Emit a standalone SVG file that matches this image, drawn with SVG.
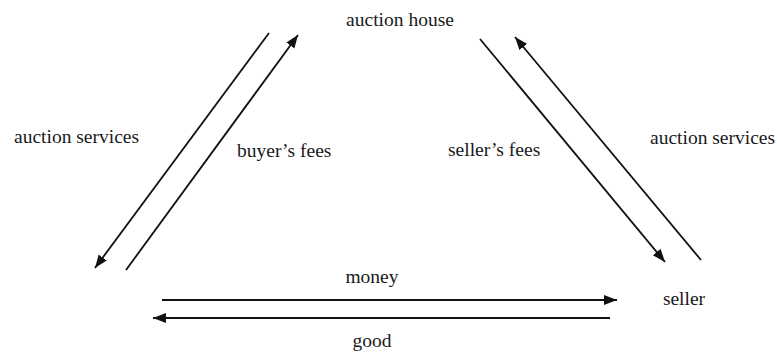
<svg xmlns="http://www.w3.org/2000/svg" width="777" height="354" viewBox="0 0 777 354">
<style>
text{font-family:'Liberation Serif','Times New Roman',Times,serif;font-size:19.5px;fill:#1a1a1a}
.c{stroke:#111;stroke-width:1.8;fill:none}
</style>
<defs>
<marker id="ah" markerUnits="userSpaceOnUse" markerWidth="14" markerHeight="11" refX="13" refY="5" orient="auto">
<path d="M0,0 L13,5 L0,10 z" fill="#111"/>
</marker>
</defs>
<rect width="777" height="354" fill="#fff"/>
<g id="auction-house"><text x="400" y="26" text-anchor="middle">auction house</text></g>
<g id="seller"><text x="684" y="305" text-anchor="middle">seller</text></g>
<g id="connectors">
<line class="c" x1="269" y1="33" x2="95" y2="268" marker-end="url(#ah)"/>
<line class="c" x1="126" y1="270" x2="298" y2="35" marker-end="url(#ah)"/>
<line class="c" x1="480" y1="39" x2="665" y2="262" marker-end="url(#ah)"/>
<line class="c" x1="701" y1="260" x2="515" y2="37" marker-end="url(#ah)"/>
<line class="c" x1="162" y1="300" x2="617" y2="300" marker-end="url(#ah)"/>
<line class="c" x1="610" y1="318" x2="153" y2="318" marker-end="url(#ah)"/>
<text x="14" y="143">auction services</text>
<text x="237" y="157">buyer’s fees</text>
<text x="448" y="156">seller’s fees</text>
<text x="650" y="144">auction services</text>
<text x="372" y="283" text-anchor="middle">money</text>
<text x="372" y="347" text-anchor="middle">good</text>
</g>
</svg>
